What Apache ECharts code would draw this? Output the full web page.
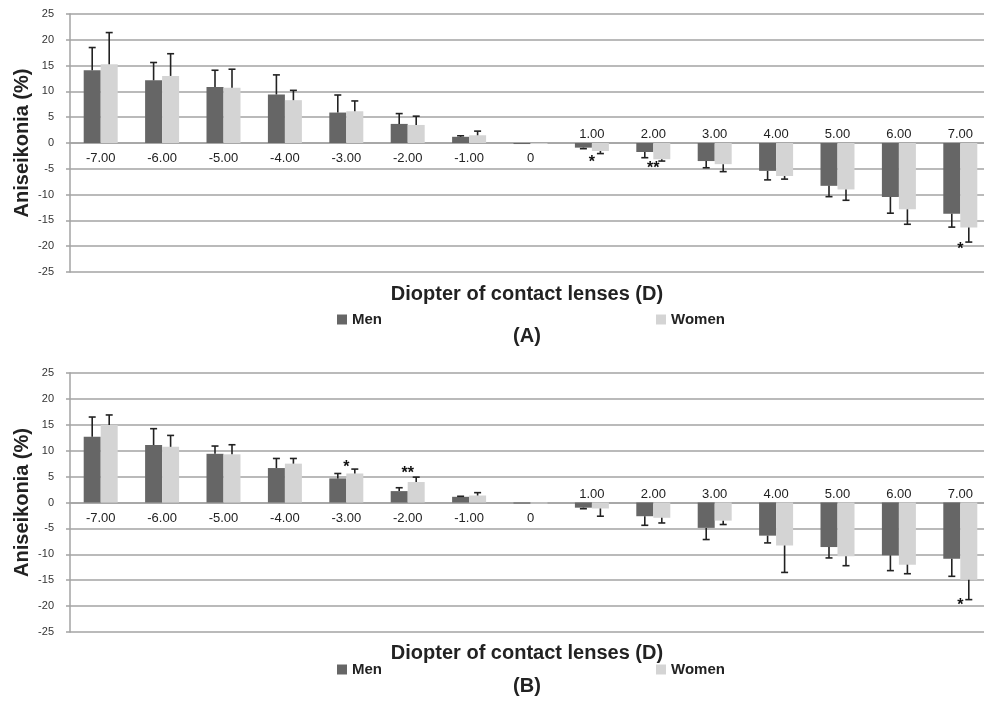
<!DOCTYPE html>
<html><head><meta charset="utf-8">
<script src="https://cdn.jsdelivr.net/npm/echarts@6/dist/echarts.min.js"></script>
<style>html,body{margin:0;padding:0;background:#fff}#c{width:984px;height:706px}</style>
</head><body><div id="c"></div>
<script>
// ---- data ----
const categories = ['-7.00','-6.00','-5.00','-4.00','-3.00','-2.00','-1.00','0','1.00','2.00','3.00','4.00','5.00','6.00','7.00'];
const yMin = -25, yMax = 25, yStep = 5;

// Panel A
const menA     = [14.1, 12.15, 10.85, 9.4, 5.9, 3.7, 1.2, -0.2, -0.9, -1.75, -3.5, -5.4, -8.3, -10.45, -13.7];
const menSdA   = [4.4, 3.45, 3.25, 3.8, 3.4, 2.0, 0.2, 0, 0.2, 1.1, 1.3, 1.75, 2.1, 3.15, 2.6];
const womenA   = [15.25, 13.0, 10.7, 8.3, 6.15, 3.5, 1.5, -0.2, -1.55, -3.15, -4.1, -6.4, -9.0, -12.85, -16.4];
const womenSdA = [6.15, 4.3, 3.6, 1.9, 2.0, 1.7, 0.8, 0, 0.5, 0.35, 1.45, 0.6, 2.1, 2.9, 2.8];
const starCatsA = ['1.00', '2.00', '7.00'];
const starYA    = [-3.2, -4.45, -20];
const starTxtA  = ['*', '**', '*'];

// Panel B
const menB     = [12.7, 11.1, 9.4, 6.65, 4.65, 2.2, 1.1, -0.2, -1.0, -2.65, -4.9, -6.4, -8.6, -10.2, -10.85];
const menSdB   = [3.8, 3.15, 1.5, 1.85, 0.95, 0.65, 0.1, 0, 0.2, 1.75, 2.25, 1.4, 2.1, 2.95, 3.4];
const womenB   = [14.95, 10.75, 9.3, 7.5, 5.6, 3.95, 1.35, -0.2, -1.15, -2.95, -3.5, -8.3, -10.4, -12.0, -14.9];
const womenSdB = [1.95, 2.2, 1.85, 1.0, 0.85, 0.95, 0.55, 0, 1.5, 1.0, 0.75, 5.2, 1.8, 1.75, 3.85];
const starCatsB = ['-3.00', '-2.00', '7.00'];
const starYB    = [7.35, 6.2, -19.3];
const starTxtB  = ['*', '**', '*'];

const xTitle = 'Diopter of contact lenses (D)';
const yTitle = 'Aniseikonia (%)';
const panelLabels = ['(A)', '(B)'];

// ---- styling ----
const FONT = "'Liberation Sans', Arial, Helvetica, sans-serif";
const MEN_C = '#666666', WOMEN_C = '#d4d4d4', GRID_C = '#a3a3a3', TXT = '#222';
const BAR_W = 17;
const GRIDS = [
  { left: 70, top: 14, width: 921, height: 258, outerBoundsMode: 'none', containLabel: false },
  { left: 70, top: 373, width: 921, height: 259, outerBoundsMode: 'none', containLabel: false }
];

function yAxisFor(gi) {
  return {
    type: 'value', gridIndex: gi, min: yMin, max: yMax, interval: yStep,
    axisLine: { show: true, lineStyle: { color: GRID_C, width: 1.5 } },
    axisTick: { show: true, length: 4, lineStyle: { color: GRID_C, width: 1.5 } },
    axisLabel: { fontSize: 11, color: '#333', margin: 16, fontFamily: FONT },
    splitLine: { show: true, lineStyle: { color: GRID_C, width: 1.5 } },
    name: yTitle, nameLocation: 'middle', nameGap: 38, nameRotate: 90, nameMoveOverlap: false,
    nameTextStyle: { fontSize: 20, fontWeight: 'bold', color: TXT, fontFamily: FONT }
  };
}
// the category axes sit on the zero line (middle of the symmetric value range)
function xBottom(gi) {
  return {
    type: 'category', gridIndex: gi, data: categories, position: 'bottom',
    offset: -GRIDS[gi].height / 2,
    axisLine: { show: true, onZero: false, lineStyle: { color: GRID_C, width: 1.5 } },
    axisTick: { show: false },
    axisLabel: { interval: 0, fontSize: 13, color: TXT, margin: 9, fontFamily: FONT,
      formatter: v => (parseFloat(v) > 0 ? '' : v) }
  };
}
function xTop(gi) {
  return {
    type: 'category', gridIndex: gi, data: categories, position: 'top',
    offset: -GRIDS[gi].height / 2,
    axisLine: { show: false, onZero: false },
    axisTick: { show: false },
    axisLabel: { interval: 0, fontSize: 13, color: TXT, margin: 2, fontFamily: FONT,
      formatter: v => (parseFloat(v) > 0 ? v : '') }
  };
}
function errRender(dx) {
  return function (params, api) {
    const i = api.value(0), m = api.value(1), sd = api.value(2);
    if (!sd) return null;
    const end = m >= 0 ? m + sd : m - sd;
    const a = api.coord([i, m]), b = api.coord([i, end]);
    const x = a[0] + dx;
    return { type: 'group', children: [
      { type: 'line', shape: { x1: x, y1: a[1], x2: x, y2: b[1] }, style: { stroke: '#222', lineWidth: 1.6 } },
      { type: 'line', shape: { x1: x - 3.5, y1: b[1], x2: x + 3.5, y2: b[1] }, style: { stroke: '#222', lineWidth: 1.6 } }
    ]};
  };
}
function starRender(texts) {
  return function (params, api) {
    const p = api.coord([api.value(0), api.value(1)]);
    return { type: 'text', x: p[0], y: p[1] + 3, style: { text: texts[params.dataIndex], fill: '#111',
      font: 'bold 16px ' + FONT, textAlign: 'center', textVerticalAlign: 'middle' } };
  };
}
function panelSeries(gi, men, menSd, women, womenSd, starCats, starY, starTxt) {
  const xi = 2 * gi, yi = gi;
  return [
    { type: 'bar', name: 'Men', xAxisIndex: xi, yAxisIndex: yi, data: men, barWidth: BAR_W, barGap: '0%',
      itemStyle: { color: MEN_C } },
    { type: 'bar', name: 'Women', xAxisIndex: xi, yAxisIndex: yi, data: women, barWidth: BAR_W, barGap: '0%',
      itemStyle: { color: WOMEN_C } },
    { type: 'custom', xAxisIndex: xi, yAxisIndex: yi, z: 5,
      data: men.map((m, i) => [i, m, menSd[i]]), renderItem: errRender(-BAR_W / 2) },
    { type: 'custom', xAxisIndex: xi, yAxisIndex: yi, z: 5,
      data: women.map((m, i) => [i, m, womenSd[i]]), renderItem: errRender(BAR_W / 2) },
    { type: 'custom', xAxisIndex: xi, yAxisIndex: yi, z: 6,
      data: starCats.map((c, i) => [categories.indexOf(c), starY[i]]), renderItem: starRender(starTxt) }
  ];
}
const legTxt = { fontSize: 15, fontWeight: 'bold', color: TXT, fontFamily: FONT };
function legend(name, left, top) {
  return { data: [name], left: left, top: top, padding: 0, icon: 'rect', itemWidth: 10, itemHeight: 10,
    itemGap: 5, textStyle: legTxt, selectedMode: false };
}
const titleTxt = { fontSize: 20, fontWeight: 'bold', color: TXT, fontFamily: FONT };
function title(text, top) {
  return { text: text, left: 527, top: top, textAlign: 'center', padding: 0, textStyle: titleTxt };
}

const option = {
  animation: false,
  backgroundColor: '#fff',
  textStyle: { fontFamily: FONT },
  grid: GRIDS,
  xAxis: [xBottom(0), xTop(0), xBottom(1), xTop(1)],
  yAxis: [yAxisFor(0), yAxisFor(1)],
  legend: [legend('Men', 337, 312), legend('Women', 656, 312), legend('Men', 337, 662), legend('Women', 656, 662)],
  title: [title(xTitle, 284), title(panelLabels[0], 326), title(xTitle, 643), title(panelLabels[1], 676)],
  series: [].concat(
    panelSeries(0, menA, menSdA, womenA, womenSdA, starCatsA, starYA, starTxtA),
    panelSeries(1, menB, menSdB, womenB, womenSdB, starCatsB, starYB, starTxtB)
  )
};
const chart = echarts.init(document.getElementById('c'), null, { renderer: 'canvas' });
chart.setOption(option);
</script></body></html>
